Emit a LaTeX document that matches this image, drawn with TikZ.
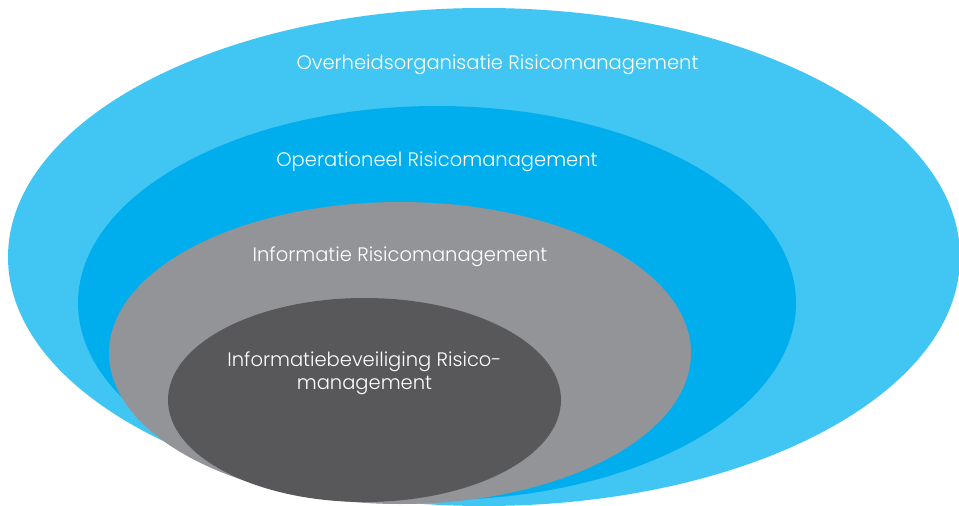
\documentclass[tikz,border=0pt]{standalone}
\usepackage{fontspec}
\setmainfont{Poppins}[UprightFont={* Light}]
\usetikzlibrary{shapes.geometric}
\definecolor{lightblue}{HTML}{41C6F3}
\definecolor{midblue}{HTML}{00AEEE}
\definecolor{midgray}{HTML}{929497}
\definecolor{darkgray}{HTML}{58585A}
\tikzset{
  ring/.style={ellipse, inner sep=0pt, outer sep=0pt, draw=none},
  lbl/.style={text=white, font=\fontsize{19.5}{23}\selectfont, align=center, inner sep=0pt, anchor=base}
}
\begin{document}
\begin{tikzpicture}[x=1pt,y=-1pt]
\useasboundingbox (0,0) rectangle (959,506);
\node[ring, fill=lightblue, minimum width=952pt, minimum height=498pt] (e1) at (484,257) {};
\node[ring, fill=midblue, minimum width=718pt, minimum height=394pt] (e2) at (437,303) {};
\node[ring, fill=midgray, minimum width=582pt, minimum height=302pt] (e3) at (400,353) {};
\node[ring, fill=darkgray, minimum width=393pt, minimum height=204pt] (e4) at (364.5,400) {};
\node[lbl] (t1) at (497.5,69) {Overheidsorganisatie Risicomanagement};
\node[lbl] (t2) at (437,166) {Operationeel Risicomanagement};
\node[lbl] (t3) at (400,261) {Informatie Risicomanagement};
\node[lbl] (t4) at (364.5,389) {Informatiebeveiliging Risico-\\management};
\end{tikzpicture}
\end{document}
